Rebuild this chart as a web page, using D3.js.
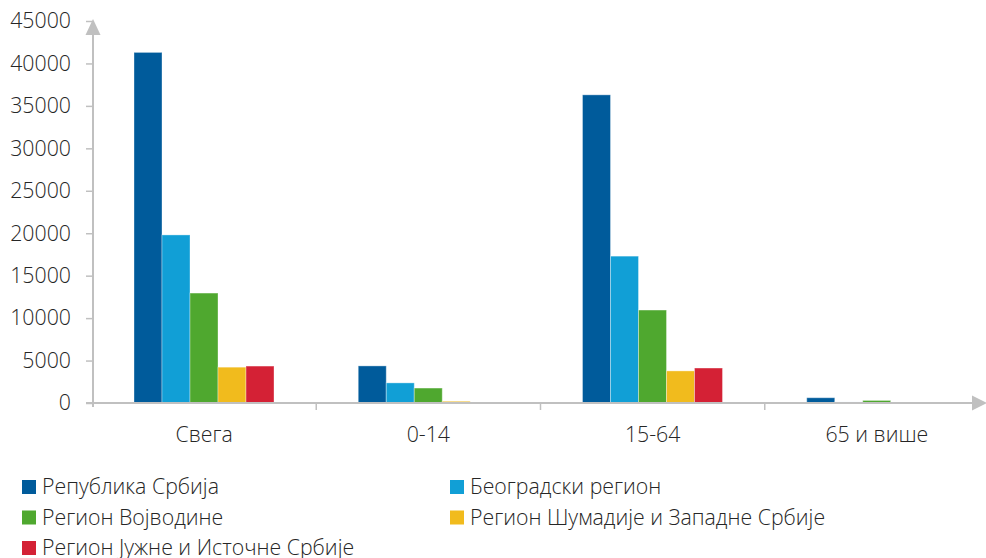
<!DOCTYPE html>
<html>
<head>
<meta charset="utf-8">
<script src="https://cdn.jsdelivr.net/npm/d3@7"></script>
<style>
  body { margin: 0; background: #fff; }
  svg text { font-family: "Open Sans", "Noto Sans", sans-serif; font-weight: 300; fill: #262626; }
</style>
</head>
<body>
<svg id="chart" width="986" height="558"></svg>
<script>
"use strict";

// categories and series (age groups x regions)
var categories = ["Свега", "0-14", "15-64", "65 и више"];
var seriesNames = ["Република Србија", "Београдски регион", "Регион Војводине",
  "Регион Шумадије и Западне Србије", "Регион Јужне и Источне Србије"];
var seriesColors = ["#005b9b", "#119fd6", "#4fa82f", "#f1bb1d", "#d42135"];

var republika = [41300, 4370, 36300, 620];
var beograd = [19800, 2370, 17300, 120];
var vojvodina = [12950, 1760, 10950, 300];
var sumadija = [4220, 200, 3780, 110];
var jug = [4350, 110, 4120, 90];
var yTicks = [0, 5000, 10000, 15000, 20000, 25000, 30000, 35000, 40000, 45000];

var values = [republika, beograd, vojvodina, sumadija, jug];
var axisColor = "#c0c0c0";
var fontSize = "21.3px";

var svg = d3.select("#chart");

var y = d3.scaleLinear().domain([0, 45000]).range([403, 21]);
var x0 = d3.scaleBand().domain(categories).range([92, 989]);
var x1 = d3.scaleBand().domain(seriesNames).range([42, 182]);

// bars
categories.forEach(function(cat, ci) {
  var g = svg.append("g").attr("transform", "translate(" + x0(cat) + ",0)");
  g.selectAll("rect")
    .data(seriesNames)
    .enter().append("rect")
    .attr("x", function(s) { return x1(s); })
    .attr("width", x1.bandwidth())
    .attr("y", function(s, si) { return y(values[si][ci]); })
    .attr("height", function(s, si) { return y(0) - y(values[si][ci]); })
    .attr("fill", function(s, si) { return seriesColors[si]; })
    .attr("stroke", "rgba(255,255,255,0.35)")
    .attr("stroke-width", 1);
});

// y axis
var yAxis = svg.append("g")
  .attr("transform", "translate(93,0)")
  .call(d3.axisLeft(y).tickValues(yTicks).tickSize(7).tickPadding(15).tickFormat(d3.format("d")));
yAxis.select(".domain").remove();
yAxis.selectAll("line").attr("stroke", axisColor).attr("stroke-width", 1.5);
yAxis.selectAll("text").attr("font-size", fontSize).attr("fill", "#262626")
  .attr("font-family", "'Open Sans', sans-serif").attr("font-weight", 300);

svg.append("line")
  .attr("x1", 93).attr("x2", 93).attr("y1", y(0) + 4).attr("y2", 34)
  .attr("stroke", axisColor).attr("stroke-width", 2);
svg.append("path")
  .attr("d", "M93,19 L100.5,35 L85.5,35 Z")
  .attr("fill", axisColor);

// x axis
svg.append("line")
  .attr("x1", 86).attr("x2", 974).attr("y1", y(0)).attr("y2", y(0))
  .attr("stroke", axisColor).attr("stroke-width", 2);
svg.append("path")
  .attr("d", "M987," + y(0) + " L972," + (y(0) - 7.5) + " L972," + (y(0) + 7.5) + " Z")
  .attr("fill", axisColor);

svg.selectAll(".sep")
  .data(categories.slice(1))
  .enter().append("line")
  .attr("x1", function(c) { return x0(c); })
  .attr("x2", function(c) { return x0(c); })
  .attr("y1", y(0)).attr("y2", y(0) + 7)
  .attr("stroke", axisColor).attr("stroke-width", 1.5);

svg.selectAll(".cat")
  .data(categories)
  .enter().append("text")
  .attr("x", function(c) { return x0(c) + x0.bandwidth() / 2; })
  .attr("y", 442)
  .attr("text-anchor", "middle")
  .attr("font-size", fontSize)
  .text(function(c) { return c; });

// legend
var legend = svg.append("g");
seriesNames.forEach(function(name, i) {
  var col = i % 2, row = Math.floor(i / 2);
  var lx = 22 + col * 428, ly = 487 + row * 30.5;
  legend.append("rect")
    .attr("x", lx).attr("y", ly - 7)
    .attr("width", 14).attr("height", 14)
    .attr("fill", seriesColors[i]);
  legend.append("text")
    .attr("x", lx + 20).attr("y", ly + 7)
    .attr("font-size", fontSize)
    .text(name);
});
</script>
</body>
</html>
